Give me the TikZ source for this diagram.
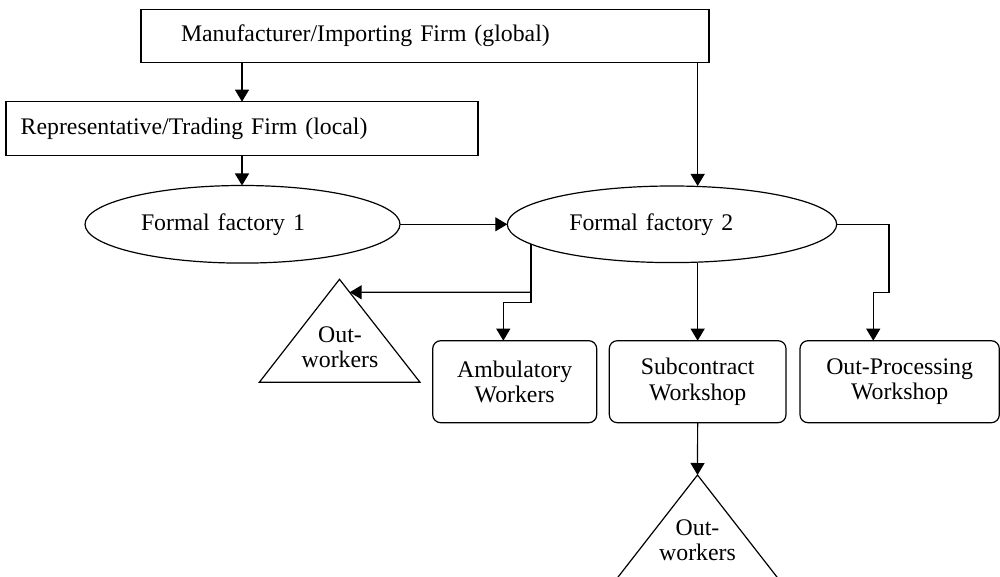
\documentclass[tikz,border=0pt]{standalone}
\usepackage{fontspec}
\setmainfont{Liberation Serif}
\usetikzlibrary{arrows.meta,shapes.geometric,calc}
\begin{document}
\begin{tikzpicture}[x=1pt,y=-1pt,
  every node/.style={font=\fontsize{23.8}{25.4}\selectfont, inner sep=0pt, outer sep=0pt},
  firmbox/.style={draw, line width=1.2pt, rectangle, align=left},
  oval/.style={draw, line width=1.2pt, ellipse, align=left},
  unitbox/.style={draw, line width=1.2pt, rounded corners=8pt, align=center, minimum height=82pt},
  tritext/.style={align=center},
  conn/.style={line width=1.2pt, -{Triangle[length=12pt,width=14pt]}},
  outline/.style={line width=1.2pt, line join=miter}
]
\useasboundingbox (0,0) rectangle (1000,577);
\clip (0,0) rectangle (1000,577);

% firms
\node[firmbox, minimum width=568pt, minimum height=52.8pt, text width=488pt] (global) at (425,35.9)
  {Manufacturer/Importing Firm (global)};
\node[firmbox, minimum width=472pt, minimum height=54pt, text width=442.6pt] (local) at (242,128.7)
  {Representative/Trading Firm (local)};

% formal factories
\node[oval, minimum width=315pt, minimum height=77.6pt, text width=203pt] (ff1) at (242.5,224.3) {Formal factory 1};
\node[oval, minimum width=329.4pt, minimum height=76.6pt, text width=205.4pt] (ff2) at (672,224.3) {Formal factory 2};

% production units
\node[unitbox, minimum width=164pt] (amb) at (514.7,381.7) {Ambulatory\\Workers};
\node[unitbox, minimum width=176.7pt] (sub) at (697.65,381.7) {Subcontract\\Workshop};
\node[unitbox, minimum width=199.3pt] (op) at (899.65,381.7) {Out-Processing\\Workshop};

% out-workers triangles
\coordinate (t1a) at (339.5,279.3);
\coordinate (t1l) at (259.3,382.3);
\coordinate (t1r) at (420,382.3);
\draw[outline] (t1a) -- (t1l) -- (t1r) -- cycle;
\node[tritext] (t1text) at (340,347.5) {Out-\\workers};

\coordinate (t2a) at (697.5,475);
\coordinate (t2l) at (616.5,579);
\coordinate (t2r) at (778.5,579);
\draw[outline] (t2a) -- (t2l) -- (t2r) -- cycle;
\node[tritext] (t2text) at (697.5,540) {Out-\\workers};

% helper points for the elbow connectors
\coordinate (splitlevel) at ([yshift=48.4pt]amb.north);
\coordinate (split) at (splitlevel -| ff2.188);
\coordinate (t1tip) at ($(t1a)!0.1262!(t1r)$);
\coordinate (ambknee) at ([xshift=-11.4pt,yshift=38.4pt]amb.north);
\coordinate (ambin) at ([xshift=-11.4pt]amb.north);
\coordinate (opknee) at ([xshift=-10.7pt,yshift=48.4pt]op.north);
\coordinate (opin) at ([xshift=-26.4pt]op.north);

% connectors
\draw[conn] (local.north |- global.south) -- (local.north);
\draw[conn] (local.south) -- (local.south |- ff1.north);
\draw[conn] (global.south -| sub.north) -- (ff2.north -| sub.north);
\draw[conn] (ff1.east) -- (ff2.west);
\draw[conn] (sub.north |- ff2.south) -- (sub.north);
\draw[conn] (ff2.east) -| (opknee) -| (opin);
\draw[conn] (ff2.188) |- (ambknee) -- (ambin);
\draw[conn] (split) -- (t1tip);
\draw[conn] (sub.south) -- (t2a);
\end{tikzpicture}
\end{document}
